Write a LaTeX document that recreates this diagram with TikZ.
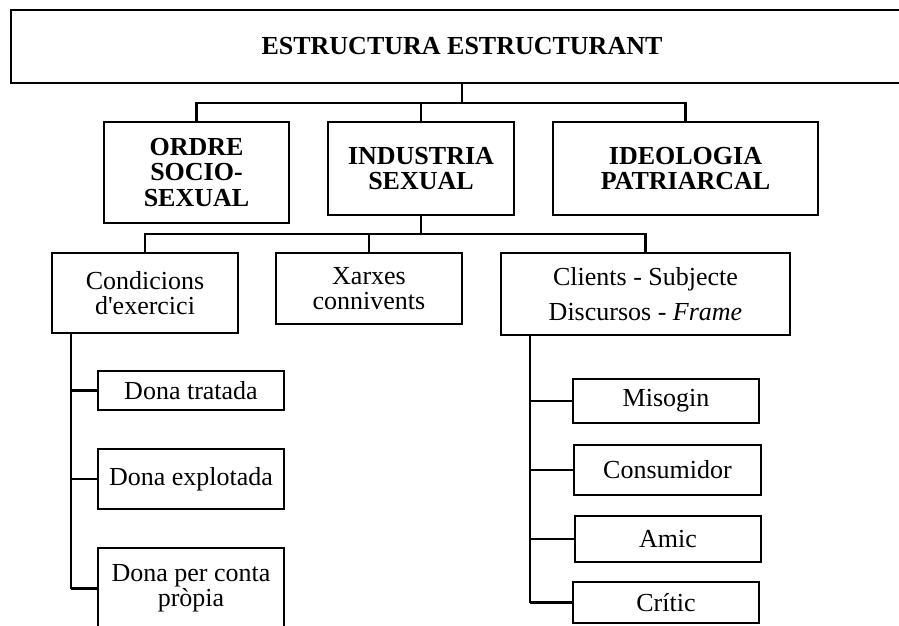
\documentclass[tikz,border=0pt]{standalone}
\usepackage{fontspec}
\setmainfont{Liberation Serif}
\usetikzlibrary{positioning}
\begin{document}
\begin{tikzpicture}[x=1pt,y=-1pt,
    box/.style={draw,rectangle,inner sep=0pt,align=center,line width=2.3pt,font=\fontsize{26}{25}\selectfont},
    bigbox/.style={box,line width=2.5pt,font=\fontsize{26}{25.5}\selectfont\bfseries},
    link/.style={line width=2.6pt},
    sublink/.style={line width=2.1pt}]
        \clip (0,0) rectangle (899,625);
        \node[bigbox,line width=2.7pt,minimum width=902pt,minimum height=73pt] (top) at (462,46.5) {ESTRUCTURA ESTRUCTURANT};
        \node[bigbox,minimum width=185pt,minimum height=101pt] (ordre) at (196.5,172.5) {ORDRE\\SOCIO-\\SEXUAL};
        \node[bigbox,minimum width=186pt,minimum height=93pt] (industria) at (421,168.5) {INDUSTRIA\\SEXUAL};
        \node[bigbox,minimum width=265pt,minimum height=93pt] (ideologia) at (685.5,168.5) {IDEOLOGIA\\PATRIARCAL};
        \node[box,minimum width=186pt,minimum height=80pt] (condicions) at (145,293) {Condicions\\d\textquotesingle exercici};
        \node[box,minimum width=186pt,minimum height=71pt] (xarxes) at (369,288.5) {Xarxes\\connivents};
        \node[box,minimum width=289pt,minimum height=82pt,font=\fontsize{26}{35}\selectfont] (clients) at (645.5,294) {Clients - Subjecte\\Discursos - \textit{Frame}};
        \node[box,minimum width=186pt,minimum height=39pt] (tratada) at (191,390.5) {Dona tratada};
        \node[box,minimum width=186pt,minimum height=60pt] (explotada) at (191,479) {Dona explotada};
        \node[box,minimum width=186pt,minimum height=81pt] (propia) at (191,588.5) {Dona per conta\\pròpia};
        \node[box,minimum width=186pt,minimum height=44pt] (misogin) at (666,401) {Misogin};
        \node[box,minimum width=187pt,minimum height=50pt] (consumidor) at (667.5,470) {Consumidor};
        \node[box,minimum width=186pt,minimum height=46pt] (amic) at (668,539) {Amic};
        \node[box,minimum width=186pt,minimum height=41pt] (critic) at (666,602.5) {Crític};
        \coordinate (bus1) at (462,103);
        \coordinate (bus2) at (421,234);
        \coordinate (ltrunk) at (71,333);
        \coordinate (rtrunk) at (530,335);
        \draw[link] (top.south) -- (bus1);
        \draw[link] (ordre.north) |- (bus1) -| (ideologia.north);
        \draw[link] (industria.north) -- (industria.north |- bus1);
        \draw[link] (industria.south) -- (bus2);
        \draw[sublink] (condicions.north) |- (bus2) -| (clients.north);
        \draw[sublink] (xarxes.north) -- (xarxes.north |- bus2);
        \draw[link] (ltrunk) -- (ltrunk |- propia.west);
        \draw[sublink] (ltrunk |- tratada.west) -- (tratada.west);
        \draw[sublink] (ltrunk |- explotada.west) -- (explotada.west);
        \draw[sublink] (ltrunk |- propia.west) -- (propia.west);
        \draw[link] (rtrunk) -- (rtrunk |- critic.west);
        \draw[sublink] (rtrunk |- misogin.west) -- (misogin.west);
        \draw[sublink] (rtrunk |- consumidor.west) -- (consumidor.west);
        \draw[sublink] (rtrunk |- amic.west) -- (amic.west);
        \draw[sublink] (rtrunk |- critic.west) -- (critic.west);
      \end{tikzpicture}
\end{document}
